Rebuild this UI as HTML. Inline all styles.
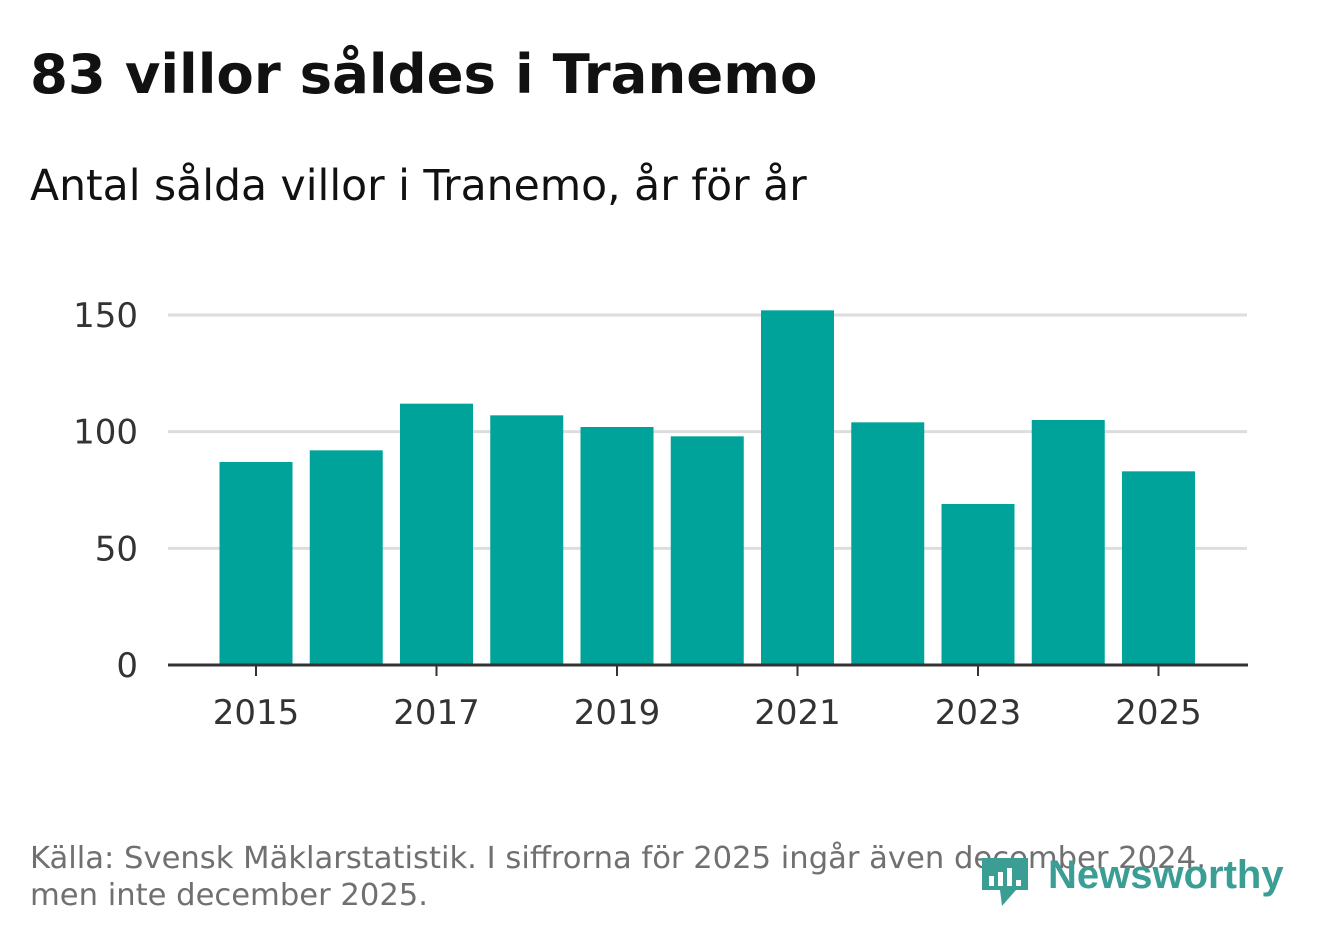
<!DOCTYPE html>
<html><head><meta charset="utf-8"><style>
body{margin:0;width:1322px;height:939px;background:#fff;overflow:hidden;font-family:"DejaVu Sans","Liberation Sans",sans-serif;}
</style></head><body>
<svg width="1322" height="939" xmlns="http://www.w3.org/2000/svg">
<text x="30" y="93" font-size="54.5" font-weight="bold" fill="#111" font-family="DejaVu Sans, Liberation Sans, sans-serif">83 villor såldes i Tranemo</text>
<text x="30" y="200" font-size="42.5" fill="#111" font-family="DejaVu Sans, Liberation Sans, sans-serif">Antal sålda villor i Tranemo, år för år</text>
<g id="grid"></g><g id="bars"></g><g id="xaxis"></g>
<text x="30" y="868" font-size="30.6" fill="#707070" font-family="DejaVu Sans, Liberation Sans, sans-serif">Källa: Svensk Mäklarstatistik. I siffrorna för 2025 ingår även december 2024,</text>
<text x="30" y="905" font-size="30.6" fill="#707070" font-family="DejaVu Sans, Liberation Sans, sans-serif">men inte december 2025.</text>
<g>
<path d="M982 858 h46 v32 h-12 l-14 16 l-2 -16 h-18 z" fill="#3a9e95"/>
<rect x="989" y="876" width="5" height="10" fill="#fff"/><rect x="998" y="872" width="5" height="14" fill="#fff"/><rect x="1007" y="868" width="5" height="18" fill="#fff"/><rect x="1016" y="880" width="5" height="6" fill="#fff"/>
<text x="1048" y="888" font-size="40" font-weight="bold" fill="#3a9e95" font-family="Liberation Sans, sans-serif">Newsworthy</text>
</g>
</svg>
<script>
const years=[2015,2016,2017,2018,2019,2020,2021,2022,2023,2024,2025];
const values=[87,92,112,107,102,98,152,104,69,105,83];
const yTicks=[0,50,100,150];
const xTickLabels=[2015,2017,2019,2021,2023,2025];
const NS="http://www.w3.org/2000/svg";
const y=v=>665-v*(350/150);
const x=yr=>256+(yr-2015)*90.25;
const g=document.getElementById('grid'),b=document.getElementById('bars'),xa=document.getElementById('xaxis');
function mk(tag,attrs,parent){const e=document.createElementNS(NS,tag);for(const k in attrs)e.setAttribute(k,attrs[k]);parent.appendChild(e);return e;}
yTicks.forEach(t=>{
 if(t>0){const l=mk('line',{x1:168,x2:1247,y1:y(t),y2:y(t),stroke:'#dddddd','stroke-width':3},g);
 
 }
 const tx=mk('text',{x:138,y:y(t)+12,'text-anchor':'end','font-size':34,fill:'#333'},g);
 tx.textContent=t;
 
 
});
years.forEach((yr,i)=>{
 const r=mk('rect',{x:x(yr)-36.5,y:y(values[i]),width:73,height:665-y(values[i]),fill:'#00a39a'},b);
 
 
});
const ax=mk('line',{x1:168,x2:1248,y1:665,y2:665,stroke:'#333','stroke-width':3},xa);


xTickLabels.forEach(yr=>{
 const tk=mk('line',{x1:x(yr),x2:x(yr),y1:665,y2:676,stroke:'#333','stroke-width':2},xa);
 
 
 const tx=mk('text',{x:x(yr),y:724,'text-anchor':'middle','font-size':34,fill:'#333'},xa);
 tx.textContent=yr;
 
 
});
</script>
</body></html>
